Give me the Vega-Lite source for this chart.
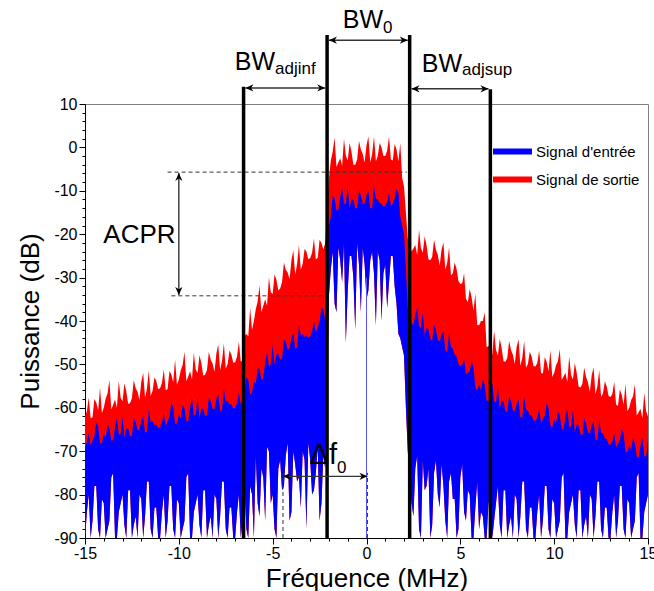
{
  "$schema": "https://vega.github.io/schema/vega-lite/v6.json",
  "width": 563,
  "height": 434,
  "autosize": {"type": "none"},
  "padding": {"left": 85, "top": 104, "right": 6, "bottom": 53},
  "background": "white",
  "config": {
    "view": {"stroke": "#808080", "strokeWidth": 1},
    "font": "Liberation Sans",
    "axis": {"labelFont": "Liberation Sans", "labelFontSize": 16, "labelColor": "black", "titleFont": "Liberation Sans", "titleFontSize": 26, "titleFontWeight": "normal", "titleColor": "black", "domainColor": "black", "tickColor": "black", "grid": false, "labelOverlap": false, "labelFlush": false, "labelBound": false}
  },
  "resolve": {"axis": {"x": "independent", "y": "independent"}},
  "datasets": {
    "spec": [
      {"f":-15,"r":-62,"b":-69,"l":-90},{"f":-14.9,"r":-60.8,"b":-67.9,"l":-84},{"f":-14.8,"r":-57.6,"b":-65.8,"l":-80},{"f":-14.7,"r":-62.4,"b":-68.7,"l":-90},{"f":-14.6,"r":-62.2,"b":-67.6,"l":-86},
      {"f":-14.5,"r":-58,"b":-66.5,"l":-78},{"f":-14.4,"r":-58.8,"b":-63.4,"l":-78},{"f":-14.3,"r":-60.6,"b":-64.3,"l":-88},{"f":-14.2,"r":-55.4,"b":-68.2,"l":-90},{"f":-14.1,"r":-61.2,"b":-68.1,"l":-81},
      {"f":-14,"r":-60,"b":-66,"l":-82},{"f":-13.9,"r":-57.9,"b":-66.9,"l":-90},{"f":-13.8,"r":-56.7,"b":-63.8,"l":-88},{"f":-13.7,"r":-53.6,"b":-64.7,"l":-86},{"f":-13.6,"r":-60.4,"b":-67.6,"l":-76},
      {"f":-13.5,"r":-59.3,"b":-67.5,"l":-75},{"f":-13.4,"r":-58.1,"b":-64.4,"l":-90},{"f":-13.3,"r":-60,"b":-62.3,"l":-90},{"f":-13.2,"r":-53.8,"b":-66.2,"l":-84},{"f":-13.1,"r":-57.7,"b":-66.1,"l":-82},
      {"f":-13,"r":-58.5,"b":-62,"l":-80},{"f":-12.9,"r":-54.4,"b":-66.9,"l":-87},{"f":-12.8,"r":-56.2,"b":-64.8,"l":-90},{"f":-12.7,"r":-59.1,"b":-64.7,"l":-79},{"f":-12.6,"r":-58.9,"b":-66.6,"l":-79},
      {"f":-12.5,"r":-57.8,"b":-66.5,"l":-90},{"f":-12.4,"r":-53.6,"b":-62.4,"l":-87},{"f":-12.3,"r":-55.5,"b":-63.3,"l":-85},{"f":-12.2,"r":-56.3,"b":-65.2,"l":-90},{"f":-12.1,"r":-58.2,"b":-65.1,"l":-80},
      {"f":-12,"r":-54,"b":-63,"l":-81},{"f":-11.9,"r":-51.9,"b":-61.9,"l":-90},{"f":-11.8,"r":-57.7,"b":-65.7,"l":-85},{"f":-11.7,"r":-55.6,"b":-65.6,"l":-77},{"f":-11.6,"r":-51.4,"b":-60.4,"l":-77},
      {"f":-11.5,"r":-57.3,"b":-63.3,"l":-88},{"f":-11.4,"r":-56.1,"b":-63.1,"l":-90},{"f":-11.3,"r":-53,"b":-64,"l":-83},{"f":-11.2,"r":-53.8,"b":-63.8,"l":-83},{"f":-11.1,"r":-55.7,"b":-64.7,"l":-90},
      {"f":-11,"r":-55.5,"b":-64.5,"l":-90},{"f":-10.9,"r":-54.3,"b":-63.4,"l":-84},{"f":-10.8,"r":-51.1,"b":-61.3,"l":-80},{"f":-10.7,"r":-55.9,"b":-64.2,"l":-90},{"f":-10.6,"r":-55.7,"b":-63.1,"l":-86},
      {"f":-10.5,"r":-51.5,"b":-62,"l":-78},{"f":-10.4,"r":-52.3,"b":-58.9,"l":-78},{"f":-10.3,"r":-54.1,"b":-59.8,"l":-88},{"f":-10.2,"r":-48.9,"b":-63.7,"l":-90},{"f":-10.1,"r":-54.7,"b":-63.6,"l":-81},
      {"f":-10,"r":-53.5,"b":-61.5,"l":-82},{"f":-9.9,"r":-51.4,"b":-62.4,"l":-90},{"f":-9.8,"r":-50.2,"b":-59.3,"l":-88},{"f":-9.7,"r":-47.1,"b":-60.2,"l":-86},{"f":-9.6,"r":-53.9,"b":-63.1,"l":-76},
      {"f":-9.5,"r":-52.8,"b":-63,"l":-75},{"f":-9.4,"r":-51.6,"b":-59.9,"l":-90},{"f":-9.3,"r":-53.5,"b":-57.8,"l":-90},{"f":-9.2,"r":-47.3,"b":-61.7,"l":-84},{"f":-9.1,"r":-51.2,"b":-61.6,"l":-82},
      {"f":-9,"r":-52,"b":-57.5,"l":-80},{"f":-8.9,"r":-47.9,"b":-62.4,"l":-87},{"f":-8.8,"r":-49.7,"b":-60.2,"l":-90},{"f":-8.7,"r":-52.6,"b":-60.1,"l":-79},{"f":-8.6,"r":-52.4,"b":-61.9,"l":-79},
      {"f":-8.5,"r":-51.3,"b":-61.8,"l":-90},{"f":-8.4,"r":-47.1,"b":-57.6,"l":-87},{"f":-8.3,"r":-49,"b":-58.5,"l":-85},{"f":-8.2,"r":-49.8,"b":-60.3,"l":-90},{"f":-8.1,"r":-51.7,"b":-60.2,"l":-80},
      {"f":-8,"r":-47.5,"b":-58,"l":-81},{"f":-7.9,"r":-45.4,"b":-56.9,"l":-90},{"f":-7.8,"r":-51.3,"b":-60.8,"l":-85},{"f":-7.7,"r":-49.2,"b":-60.7,"l":-77},{"f":-7.6,"r":-45.1,"b":-55.6,"l":-77},
      {"f":-7.5,"r":-51,"b":-58.5,"l":-88},{"f":-7.4,"r":-49.9,"b":-58.4,"l":-90},{"f":-7.3,"r":-46.8,"b":-59.3,"l":-83},{"f":-7.2,"r":-47.7,"b":-59.2,"l":-83},{"f":-7.1,"r":-49.6,"b":-60.1,"l":-90},
      {"f":-7,"r":-49.5,"b":-60,"l":-90},{"f":-6.9,"r":-48.2,"b":-58.8,"l":-84},{"f":-6.8,"r":-44.8,"b":-56.5,"l":-80},{"f":-6.7,"r":-49.4,"b":-59.3,"l":-90},{"f":-6.6,"r":-49,"b":-58,"l":-86},
      {"f":-6.5,"r":-43.5,"b":-56.5,"l":-78},{"f":-6.4,"r":-43,"b":-53,"l":-88},{"f":-6.3,"r":-43.5,"b":-53.5,"l":-90},{"f":-6.2,"r":-37,"b":-57,"l":-78},{"f":-6.1,"r":-42,"b":-56.5,"l":-80},
      {"f":-6,"r":-40,"b":-54,"l":-90},{"f":-5.9,"r":-37.3,"b":-54.4,"l":-71},{"f":-5.8,"r":-35.5,"b":-50.8,"l":-82},{"f":-5.7,"r":-31.8,"b":-51.2,"l":-85},{"f":-5.6,"r":-38,"b":-53.6,"l":-74},
      {"f":-5.5,"r":-36.5,"b":-53.1,"l":-76},{"f":-5.4,"r":-35,"b":-49.5,"l":-86},{"f":-5.3,"r":-36.5,"b":-47,"l":-69},{"f":-5.2,"r":-30,"b":-50.5,"l":-70},{"f":-5.1,"r":-33.4,"b":-50,"l":-82},
      {"f":-5,"r":-33.8,"b":-45.5,"l":-80},{"f":-4.9,"r":-29.2,"b":-50.1,"l":-88},{"f":-4.8,"r":-30.5,"b":-47.7,"l":-90},{"f":-4.7,"r":-33,"b":-47.4,"l":-74},{"f":-4.6,"r":-32.5,"b":-49,"l":-72},
      {"f":-4.5,"r":-31,"b":-48.6,"l":-79},{"f":-4.4,"r":-26.5,"b":-44.2,"l":-78},{"f":-4.3,"r":-28.2,"b":-44.9,"l":-71},{"f":-4.2,"r":-28.8,"b":-46.6,"l":-68},{"f":-4.1,"r":-30.4,"b":-46.3,"l":-86},
      {"f":-4,"r":-26,"b":-44,"l":-84},{"f":-3.9,"r":-23.7,"b":-42.7,"l":-70},{"f":-3.8,"r":-29.3,"b":-46.4,"l":-73},{"f":-3.7,"r":-26.9,"b":-46.1,"l":-77},{"f":-3.6,"r":-22.5,"b":-40.8,"l":-76},
      {"f":-3.5,"r":-28.2,"b":-43.4,"l":-83},{"f":-3.4,"r":-26.8,"b":-43,"l":-70},{"f":-3.3,"r":-23.4,"b":-43.7,"l":-72},{"f":-3.2,"r":-24,"b":-43.3,"l":-88},{"f":-3.1,"r":-25.8,"b":-43.9,"l":-68},
      {"f":-3,"r":-25.5,"b":-43.5,"l":-72},{"f":-2.9,"r":-24.3,"b":-42.3,"l":-80},{"f":-2.8,"r":-21,"b":-40,"l":-79},{"f":-2.7,"r":-25.8,"b":-42.7,"l":-75},{"f":-2.6,"r":-25.5,"b":-41.4,"l":-69},
      {"f":-2.5,"r":-21.3,"b":-40.1,"l":-86},{"f":-2.4,"r":-22,"b":-36.8,"l":-82},{"f":-2.3,"r":-23.5,"b":-37.4,"l":-71},{"f":-2.2,"r":-22,"b":-40,"l":-74},{"f":-2.1,"r":-14,"b":-28,"l":-55},
      {"f":-2,"r":-7,"b":-18,"l":-34},{"f":-1.9,"r":-3,"b":-16,"l":-28},{"f":-1.8,"r":-1,"b":-11,"l":-24},{"f":-1.7,"r":2.3,"b":-11.7,"l":-36},{"f":-1.6,"r":-4.5,"b":-14.5,"l":-38},
      {"f":-1.5,"r":-3.5,"b":-14.5,"l":-23},{"f":-1.4,"r":-2.5,"b":-11.5,"l":-26},{"f":-1.3,"r":-4.2,"b":-9.2,"l":-31},{"f":-1.2,"r":2,"b":-13,"l":-22},{"f":-1.1,"r":-2,"b":-13,"l":-45},
      {"f":-1,"r":-3,"b":-9,"l":-33},{"f":-0.9,"r":1,"b":-14,"l":-25},{"f":-0.8,"r":-1,"b":-12,"l":-25},{"f":-0.7,"r":-4,"b":-12,"l":-30},{"f":-0.6,"r":-4,"b":-14,"l":-42},
      {"f":-0.5,"r":-2.8,"b":-14,"l":-22},{"f":-0.4,"r":1.5,"b":-10,"l":-27},{"f":-0.3,"r":-0.5,"b":-11,"l":-38},{"f":-0.2,"r":-1.5,"b":-13,"l":-23},{"f":-0.1,"r":-3.5,"b":-13,"l":-27},
      {"f":0,"r":0.5,"b":-11,"l":-35},{"f":0.1,"r":2.5,"b":-10,"l":-33},{"f":0.2,"r":-3.5,"b":-14,"l":-26},{"f":0.3,"r":-1.5,"b":-14,"l":-24},{"f":0.4,"r":2.5,"b":-9,"l":-29},
      {"f":0.5,"r":-3.2,"b":-11.8,"l":-41},{"f":0.6,"r":-2,"b":-12,"l":-24},{"f":0.7,"r":1,"b":-12.8,"l":-26},{"f":0.8,"r":0,"b":-13,"l":-40},{"f":0.9,"r":-2,"b":-13.7,"l":-29},
      {"f":1,"r":-2,"b":-13.5,"l":-27},{"f":1.1,"r":-0.8,"b":-12.5,"l":-37},{"f":1.2,"r":2.5,"b":-10.5,"l":-31},{"f":1.3,"r":-2.8,"b":-13.5,"l":-25},{"f":1.4,"r":-3,"b":-13,"l":-25},
      {"f":1.5,"r":0.8,"b":-11.8,"l":-32},{"f":1.6,"r":-0.5,"b":-9.5,"l":-36},{"f":1.7,"r":-3.2,"b":-10.5,"l":-43},{"f":1.8,"r":1,"b":-16,"l":-44},{"f":1.9,"r":-7,"b":-18,"l":-46},
      {"f":2,"r":-9,"b":-20,"l":-48},{"f":2.1,"r":-15,"b":-28,"l":-60},{"f":2.2,"r":-21,"b":-37,"l":-70},{"f":2.3,"r":-22,"b":-36,"l":-76},{"f":2.4,"r":-24,"b":-40.5,"l":-82},
      {"f":2.5,"r":-23.3,"b":-41,"l":-85},{"f":2.6,"r":-22.5,"b":-38.5,"l":-74},{"f":2.7,"r":-24.8,"b":-36.9,"l":-71},{"f":2.8,"r":-19,"b":-41.2,"l":-88},{"f":2.9,"r":-23.2,"b":-41.6,"l":-90},
      {"f":3,"r":-24.3,"b":-38,"l":-72},{"f":3.1,"r":-20.5,"b":-43.3,"l":-79},{"f":3.2,"r":-22.6,"b":-41.6,"l":-78},{"f":3.3,"r":-25.8,"b":-41.9,"l":-74},{"f":3.4,"r":-26,"b":-44.2,"l":-90},
      {"f":3.5,"r":-25.2,"b":-44.5,"l":-87},{"f":3.6,"r":-21.3,"b":-40.8,"l":-75},{"f":3.7,"r":-23.6,"b":-42.1,"l":-72},{"f":3.8,"r":-24.8,"b":-44.4,"l":-80},{"f":3.9,"r":-27.2,"b":-44.7,"l":-83},
      {"f":4,"r":-23.5,"b":-43,"l":-73},{"f":4.1,"r":-21.9,"b":-42.4,"l":-78},{"f":4.2,"r":-28.2,"b":-46.8,"l":-86},{"f":4.3,"r":-26.6,"b":-47.2,"l":-90},{"f":4.4,"r":-23,"b":-42.6,"l":-77},
      {"f":4.5,"r":-29.5,"b":-46,"l":-75},{"f":4.6,"r":-29,"b":-46.4,"l":-81},{"f":4.7,"r":-26.5,"b":-47.8,"l":-81},{"f":4.8,"r":-28,"b":-48.2,"l":-90},{"f":4.9,"r":-30.8,"b":-49.9,"l":-88},
      {"f":5,"r":-31.5,"b":-50.5,"l":-76},{"f":5.1,"r":-31.3,"b":-50.1,"l":-73},{"f":5.2,"r":-29,"b":-48.7,"l":-84},{"f":5.3,"r":-34.9,"b":-52.3,"l":-86},{"f":5.4,"r":-35.7,"b":-51.9,"l":-79},
      {"f":5.5,"r":-32.6,"b":-51.6,"l":-80},{"f":5.6,"r":-34.5,"b":-49.2,"l":-90},{"f":5.7,"r":-37.6,"b":-50.8,"l":-90},{"f":5.8,"r":-33.7,"b":-55.4,"l":-83},{"f":5.9,"r":-40.9,"b":-56,"l":-77},
      {"f":6,"r":-41,"b":-54.6,"l":-88},{"f":6.1,"r":-40,"b":-56,"l":-84},{"f":6.2,"r":-40,"b":-53.4,"l":-85},{"f":6.3,"r":-38,"b":-54.8,"l":-90},{"f":6.4,"r":-46,"b":-58.2,"l":-90},
      {"f":6.5,"r":-45.8,"b":-58.6,"l":-82},{"f":6.6,"r":-45.5,"b":-56,"l":-80},{"f":6.7,"r":-47.9,"b":-54.3,"l":-90},{"f":6.8,"r":-42.2,"b":-58.5,"l":-86},{"f":6.9,"r":-46.6,"b":-58.8,"l":-82},
      {"f":7,"r":-48,"b":-55,"l":-78},{"f":7.1,"r":-44.1,"b":-60.2,"l":-87},{"f":7.2,"r":-46.2,"b":-58.4,"l":-90},{"f":7.3,"r":-49.3,"b":-58.6,"l":-79},{"f":7.4,"r":-49.4,"b":-60.8,"l":-79},
      {"f":7.5,"r":-48.5,"b":-61,"l":-90},{"f":7.6,"r":-44.6,"b":-57.2,"l":-87},{"f":7.7,"r":-46.7,"b":-58.4,"l":-85},{"f":7.8,"r":-47.8,"b":-60.6,"l":-90},{"f":7.9,"r":-49.9,"b":-60.8,"l":-80},
      {"f":8,"r":-46,"b":-59,"l":-81},{"f":8.1,"r":-44.2,"b":-58.1,"l":-90},{"f":8.2,"r":-50.3,"b":-62.2,"l":-85},{"f":8.3,"r":-48.5,"b":-62.3,"l":-77},{"f":8.4,"r":-44.6,"b":-57.4,"l":-77},
      {"f":8.5,"r":-50.8,"b":-60.5,"l":-88},{"f":8.6,"r":-49.9,"b":-60.6,"l":-90},{"f":8.7,"r":-47.1,"b":-61.7,"l":-83},{"f":8.8,"r":-48.2,"b":-61.8,"l":-83},{"f":8.9,"r":-50.4,"b":-62.9,"l":-90},
      {"f":9,"r":-50.5,"b":-63,"l":-90},{"f":9.1,"r":-49.7,"b":-62.2,"l":-84},{"f":9.2,"r":-46.8,"b":-60.3,"l":-80},{"f":9.3,"r":-52,"b":-63.5,"l":-90},{"f":9.4,"r":-52.1,"b":-62.6,"l":-86},
      {"f":9.5,"r":-48.3,"b":-61.8,"l":-78},{"f":9.6,"r":-49.4,"b":-58.9,"l":-78},{"f":9.7,"r":-51.6,"b":-60.1,"l":-88},{"f":9.8,"r":-46.7,"b":-64.2,"l":-90},{"f":9.9,"r":-52.9,"b":-64.4,"l":-81},
      {"f":10,"r":-52,"b":-62.5,"l":-82},{"f":10.1,"r":-50.2,"b":-63.6,"l":-90},{"f":10.2,"r":-49.3,"b":-60.7,"l":-88},{"f":10.3,"r":-46.5,"b":-61.8,"l":-86},{"f":10.4,"r":-53.6,"b":-64.9,"l":-76},
      {"f":10.5,"r":-52.8,"b":-65,"l":-75},{"f":10.6,"r":-51.9,"b":-62.1,"l":-90},{"f":10.7,"r":-54.1,"b":-60.2,"l":-90},{"f":10.8,"r":-48.2,"b":-64.3,"l":-84},{"f":10.9,"r":-52.4,"b":-64.4,"l":-82},
      {"f":11,"r":-53.5,"b":-60.5,"l":-80},{"f":11.1,"r":-49.7,"b":-65.7,"l":-87},{"f":11.2,"r":-51.9,"b":-63.8,"l":-90},{"f":11.3,"r":-55.1,"b":-64,"l":-79},{"f":11.4,"r":-55.3,"b":-66.1,"l":-79},
      {"f":11.5,"r":-54.5,"b":-66.3,"l":-90},{"f":11.6,"r":-50.7,"b":-62.4,"l":-87},{"f":11.7,"r":-52.9,"b":-63.6,"l":-85},{"f":11.8,"r":-54.1,"b":-65.7,"l":-90},{"f":11.9,"r":-56.3,"b":-65.9,"l":-80},
      {"f":12,"r":-52.5,"b":-64,"l":-81},{"f":12.1,"r":-50.7,"b":-63.2,"l":-90},{"f":12.2,"r":-56.9,"b":-67.3,"l":-85},{"f":12.3,"r":-55.1,"b":-67.5,"l":-77},{"f":12.4,"r":-51.3,"b":-62.6,"l":-77},
      {"f":12.5,"r":-57.5,"b":-65.8,"l":-88},{"f":12.6,"r":-56.7,"b":-65.9,"l":-90},{"f":12.7,"r":-53.9,"b":-67.1,"l":-83},{"f":12.8,"r":-55.1,"b":-67.2,"l":-83},{"f":12.9,"r":-57.3,"b":-68.4,"l":-90},
      {"f":13,"r":-57.5,"b":-68.5,"l":-90},{"f":13.1,"r":-56.8,"b":-67.7,"l":-84},{"f":13.2,"r":-54,"b":-65.9,"l":-80},{"f":13.3,"r":-59.3,"b":-69.1,"l":-90},{"f":13.4,"r":-59.5,"b":-68.3,"l":-86},
      {"f":13.5,"r":-55.8,"b":-67.5,"l":-78},{"f":13.6,"r":-57,"b":-64.7,"l":-78},{"f":13.7,"r":-59.3,"b":-65.9,"l":-88},{"f":13.8,"r":-54.5,"b":-70.1,"l":-90},{"f":13.9,"r":-60.8,"b":-70.3,"l":-81},
      {"f":14,"r":-60,"b":-68.5,"l":-82},{"f":14.1,"r":-58.2,"b":-69.7,"l":-90},{"f":14.2,"r":-57.4,"b":-66.9,"l":-88},{"f":14.3,"r":-54.6,"b":-68.1,"l":-86},{"f":14.4,"r":-61.8,"b":-71.3,"l":-76},
      {"f":14.5,"r":-61,"b":-71.5,"l":-75},{"f":14.6,"r":-60.2,"b":-68.7,"l":-90},{"f":14.7,"r":-62.4,"b":-66.9,"l":-90},{"f":14.8,"r":-56.6,"b":-71.1,"l":-84},{"f":14.9,"r":-60.8,"b":-71.3,"l":-82},
      {"f":15,"r":-62,"b":-67.5,"l":-80}
    ],
    "bands": [
      {"f":-6.55,"v":-90,"v2":14.0},
      {"f":-2.1,"v":-90,"v2":25.9},
      {"f":2.3,"v":-90,"v2":25.9},
      {"f":6.6,"v":-90,"v2":13.4}
    ],
    "arrows": [
      {"f":-2.0,"f2":2.2,"v":24.7,"v2":24.7},
      {"f":-6.45,"f2":-2.2,"v":13.7,"v2":13.7},
      {"f":2.4,"f2":6.5,"v":13.5,"v2":13.5},
      {"f":-10,"f2":-10,"v":-5.9,"v2":-34.0},
      {"f":-4.45,"f2":0.05,"v":-75.8,"v2":-75.8}
    ],
    "heads": [
      {"f":-2.0,"v":24.7,"dir":"left"},{"f":2.2,"v":24.7,"dir":"right"},
      {"f":-6.45,"v":13.7,"dir":"left"},{"f":-2.2,"v":13.7,"dir":"right"},
      {"f":2.4,"v":13.5,"dir":"left"},{"f":6.5,"v":13.5,"dir":"right"},
      {"f":-10,"v":-5.9,"dir":"up"},{"f":-10,"v":-34.0,"dir":"down"},
      {"f":-4.45,"v":-75.8,"dir":"left"},{"f":0.05,"v":-75.8,"dir":"right"}
    ],
    "dashes": [
      {"f":-10.6,"f2":2.15,"v":-5.7,"v2":-5.7},
      {"f":-10.4,"f2":-2.1,"v":-34.2,"v2":-34.2},
      {"f":-4.45,"f2":-4.45,"v":-90,"v2":-75},
      {"f":0.05,"f2":0.05,"v":-90,"v2":-75}
    ],
    "dc": [{"f":0,"v":-90,"v2":-30}],
    "big": [
      {"f":0.88,"v":27.5,"t":"BW"},
      {"f":-4.87,"v":17.8,"t":"BW"},
      {"f":5.09,"v":17.4,"t":"BW"}
    ],
    "delta": [{"f":-1.57,"v":-73.0,"t":"Δf"}],
    "sub": [
      {"f":0.88,"v":26.4,"t":"0"},
      {"f":-4.87,"v":16.9,"t":"adjinf"},
      {"f":5.09,"v":16.7,"t":"adjsup"},
      {"f":-1.57,"v":-75.0,"t":"0"}
    ],
    "acpr": [{"f":-12.1,"v":-20.2,"t":"ACPR"}]
  },
  "layer": [
    {
      "data": {"name": "spec"},
      "mark": {"type": "area", "interpolate": "linear", "strokeWidth": 0},
      "encoding": {
        "x": {"field": "f", "type": "quantitative",
          "scale": {"domain": [-15, 15], "nice": false, "zero": false},
          "axis": {"title": "Fréquence (MHz)", "orient": "bottom",
            "values": [-15, -10, -5, 0, 5, 10, 15],
            "labelExpr": "'' + datum.value",
            "tickSize": 6, "labelPadding": 1, "titlePadding": 4}},
        "y": {"field": "r", "type": "quantitative",
          "scale": {"domain": [-90, 10], "nice": false, "zero": false},
          "axis": {"title": "Puissance (dB)", "orient": "left",
            "values": [-90, -80, -70, -60, -50, -40, -30, -20, -10, 0, 10],
            "labelExpr": "'' + datum.value",
            "tickSize": 6, "labelPadding": 2, "titlePadding": 10}},
        "y2": {"field": "l"},
        "color": {"datum": "Signal de sortie", "type": "nominal",
          "scale": {"domain": ["Signal d'entrée", "Signal de sortie"], "range": ["#0000ff", "#ff0000"]},
          "legend": {"orient": "none", "legendX": 408, "legendY": 28, "title": null,
            "symbolType": "M-1,-0.15H1V0.15H-1Z", "symbolSize": 1521, "symbolStrokeWidth": 0,
            "labelFont": "Liberation Sans", "labelFontSize": 15, "labelColor": "black",
            "labelOffset": 4, "rowPadding": -4, "padding": 0}}
      }
    },
    {
      "data": {"name": "spec"},
      "mark": {"type": "area", "interpolate": "linear", "strokeWidth": 0},
      "encoding": {
        "x": {"field": "f", "type": "quantitative",
          "axis": {"title": null, "orient": "bottom", "labels": false, "domain": false,
            "values": [-14,-13,-12,-11,-9,-8,-7,-6,-4,-3,-2,-1,1,2,3,4,6,7,8,9,11,12,13,14],
            "tickSize": 3}},
        "y": {"field": "b", "type": "quantitative",
          "axis": {"title": null, "orient": "left", "labels": false, "domain": false,
            "values": [-88,-86,-84,-82,-78,-76,-74,-72,-68,-66,-64,-62,-58,-56,-54,-52,-48,-46,-44,-42,-38,-36,-34,-32,-28,-26,-24,-22,-18,-16,-14,-12,-8,-6,-4,-2,2,4,6,8],
            "tickSize": 3}},
        "y2": {"field": "l"},
        "color": {"datum": "Signal d'entrée", "type": "nominal"}
      }
    },
    {
      "data": {"name": "dc"},
      "mark": {"type": "rule", "color": "#5555ff", "strokeWidth": 1},
      "encoding": {"x": {"field": "f", "type": "quantitative", "axis": null}, "y": {"field": "v", "type": "quantitative", "axis": null}, "y2": {"field": "v2"}}
    },
    {
      "data": {"name": "dashes"},
      "mark": {"type": "rule", "color": "#333333", "strokeWidth": 1, "strokeDash": [4, 3]},
      "encoding": {"x": {"field": "f", "type": "quantitative", "axis": null}, "x2": {"field": "f2"}, "y": {"field": "v", "type": "quantitative", "axis": null}, "y2": {"field": "v2"}}
    },
    {
      "data": {"name": "bands"},
      "mark": {"type": "rule", "color": "black", "strokeWidth": 3.5},
      "encoding": {"x": {"field": "f", "type": "quantitative", "axis": null}, "y": {"field": "v", "type": "quantitative", "axis": null}, "y2": {"field": "v2"}}
    },
    {
      "data": {"name": "arrows"},
      "mark": {"type": "rule", "color": "#333333", "strokeWidth": 1.4},
      "encoding": {"x": {"field": "f", "type": "quantitative", "axis": null}, "x2": {"field": "f2"}, "y": {"field": "v", "type": "quantitative", "axis": null}, "y2": {"field": "v2"}}
    },
    {
      "data": {"name": "heads"},
      "mark": {"type": "point", "filled": true, "color": "black", "size": 64, "opacity": 1},
      "encoding": {"x": {"field": "f", "type": "quantitative", "axis": null}, "y": {"field": "v", "type": "quantitative", "axis": null},
        "shape": {"field": "dir", "type": "nominal", "legend": null,
          "scale": {"domain": ["right", "left", "up", "down"],
            "range": ["M0,0L-2,-0.9L-1.4,0L-2,0.9Z", "M0,0L2,-0.9L1.4,0L2,0.9Z", "M0,0L-0.9,2L0,1.4L0.9,2Z", "M0,0L-0.9,-2L0,-1.4L0.9,-2Z"]}}}
    },
    {
      "data": {"name": "big"},
      "mark": {"type": "text", "font": "Liberation Sans", "fontSize": 25, "align": "right", "baseline": "alphabetic", "color": "black"},
      "encoding": {"x": {"field": "f", "type": "quantitative", "axis": null}, "y": {"field": "v", "type": "quantitative", "axis": null}, "text": {"field": "t"}}
    },
    {
      "data": {"name": "delta"},
      "mark": {"type": "text", "font": "Liberation Sans", "fontSize": 29, "align": "right", "baseline": "alphabetic", "color": "black"},
      "encoding": {"x": {"field": "f", "type": "quantitative", "axis": null}, "y": {"field": "v", "type": "quantitative", "axis": null}, "text": {"field": "t"}}
    },
    {
      "data": {"name": "sub"},
      "mark": {"type": "text", "font": "Liberation Sans", "fontSize": 17, "align": "left", "baseline": "alphabetic", "color": "black"},
      "encoding": {"x": {"field": "f", "type": "quantitative", "axis": null}, "y": {"field": "v", "type": "quantitative", "axis": null}, "text": {"field": "t"}}
    },
    {
      "data": {"name": "acpr"},
      "mark": {"type": "text", "font": "Liberation Sans", "fontSize": 26, "align": "center", "baseline": "middle", "color": "black"},
      "encoding": {"x": {"field": "f", "type": "quantitative", "axis": null}, "y": {"field": "v", "type": "quantitative", "axis": null}, "text": {"field": "t"}}
    }
  ]
}
